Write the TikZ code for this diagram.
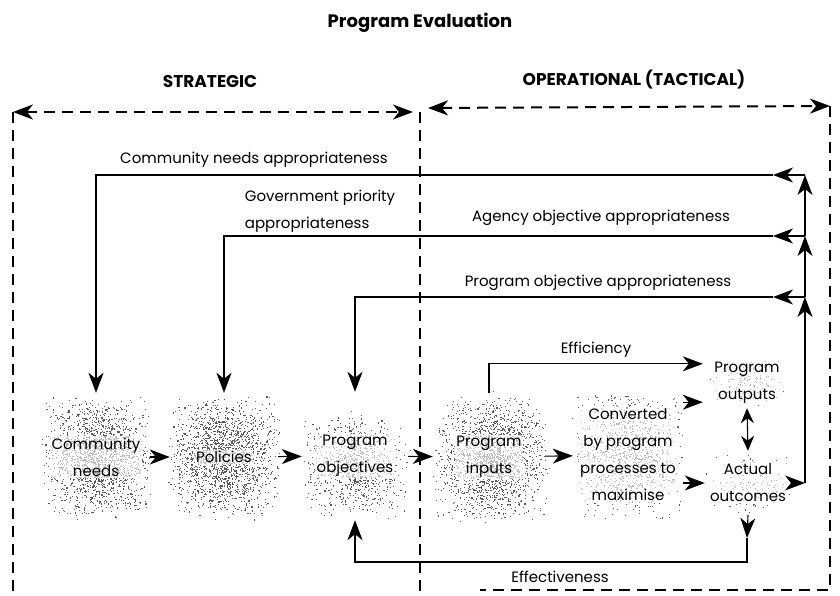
\documentclass[tikz,border=0pt]{standalone}
\usepackage{fontspec}
\setmainfont{Poppins}
\usepackage{tikz}
\usetikzlibrary{arrows.meta,calc}
\pgfdeclarelayer{bg}
\pgfsetlayers{bg,main}

\colorlet{dotgray}{black!65}

\tikzset{
  >={Stealth[length=20pt,width=15pt,inset=6pt]},
  arr/.style = {->, line width=1.1pt},
  darr/.style = {{Stealth[length=15pt,width=13pt,inset=5pt]}-{Stealth[length=15pt,width=13pt,inset=5pt]}, line width=1.1pt},
  frame/.style = {line width=2pt, dash pattern=on 11pt off 7pt},
  box/.style = {inner sep=0pt},
  boxtext/.style = {align=center, inner sep=1.5pt, rounded corners=3pt, fill=white, fill opacity=0.6, text opacity=1, font=\fontsize{15}{27}\selectfont},
  lbl/.style = {inner sep=0pt, font=\fontsize{15}{27}\selectfont},
  head/.style = {inner sep=0pt, font=\bfseries\fontsize{17}{20}\selectfont}
}

% speckled background: centre, half width, half height, number of dots
\newcommand{\stipple}[4]{%
  \foreach \k in {1,...,#4}
    \fill[dotgray] ([shift={({#2*(0.55*rand+0.5*rand)},{#3*(0.55*rand+0.5*rand)})}]#1) rectangle ++(1.1,1.1);
}

\begin{document}
\begin{tikzpicture}[x=1pt, y=-1pt]
  \pgfmathsetseed{7}
  \useasboundingbox (0,0) rectangle (840,596);

  % headings
  \node[head, font=\bfseries\fontsize{18}{20}\selectfont] (title) at (420,23) {Program Evaluation};
  \node[head] (strat) at (210,82) {STRATEGIC};
  \node[head] (oper) at (634,80) {OPERATIONAL (TACTICAL)};

  % frame
  \coordinate (tl) at (13,112);
  \coordinate (tm1) at (413,112);
  \coordinate (tdiv) at (420,112);
  \coordinate (tm2) at (428,108);
  \coordinate (tr) at (830,106);
  \draw[frame, <->] (tl) -- (tm1);
  \draw[frame, <->] (tm2) -- (tr);
  \draw[frame] (tl) -- (13,596);
  \draw[frame] (tdiv) -- (420,596);
  \draw[frame] (tr) -- (830,590) -- (480,590);

  % boxes
  \node[box, minimum width=108pt, minimum height=128pt] (comm) at (96,457) {};
  \node[box, minimum width=108pt, minimum height=128pt] (pol) at (224,457) {};
  \node[box, minimum width=106pt, minimum height=128pt] (pobj) at (355,456) {};
  \node[box, minimum width=112pt, minimum height=128pt] (pin) at (489,457) {};
  \node[box, minimum width=110pt, minimum height=124pt] (conv) at (628,455) {};
  \node[box, minimum width=88pt, minimum height=38pt] (pout) at (747,383) {};
  \node[box, minimum width=86pt, minimum height=64pt] (aout) at (748,483) {};

  \begin{pgfonlayer}{bg}
    \stipple{96,457}{54}{60}{1800}
    \stipple{224,457}{54}{60}{1800}
    \stipple{355,465}{53}{52}{900}
    \stipple{491,457}{56}{63}{1800}
    \stipple{628,455}{55}{62}{1000}
    \stipple{747,383}{42}{25}{130}
    \stipple{748,483}{42}{30}{130}
  \end{pgfonlayer}

  \node[boxtext] (commtxt) at (comm) {Community\\needs};
  \node[boxtext] (poltxt) at (pol) {Policies};
  \node[boxtext] (pobjtxt) at (pobj) {Program\\objectives};
  \node[boxtext] (pintxt) at (pin) {Program\\inputs};
  \node[boxtext] (convtxt) at (conv) {Converted\\by program\\processes to\\maximise};
  \node[boxtext] (pouttxt) at (pout) {Program\\outputs};
  \node[boxtext] (aouttxt) at (aout) {Actual\\outcomes};

  % main flow
  \draw[arr] (comm) -- (pol);
  \draw[arr] (pol) -- (pobj);
  \draw[arr] (pobj) -- (pin);
  \draw[arr] (pin) -- (conv);
  \draw[arr] (conv.east |- pout.south west) -- (pout.south west);
  \draw[arr] (conv.east |- aout.west) -- (aout.west);
  \draw[darr] ([yshift=-6pt]pout.south) -- (aout.north);

  % efficiency
  \draw[arr] (pin.north) |- (pout.north west);
  \node[lbl] (effic) at (596,350) {Efficiency};

  % appropriateness loops
  \coordinate (jc) at (805,175);
  \coordinate (jg) at (805,236);
  \coordinate (jp) at (805,297);
  \coordinate (jo) at (805,483);
  \coordinate (mc) at (773,175);
  \coordinate (mg) at (773,236);
  \coordinate (mp) at (773,297);
  \draw[arr] (aout.east) -- (jo);
  \draw[arr] (jo) -- (jp);
  \draw[arr] (jp) -- (jg);
  \draw[arr] (jg) -- (jc);
  \draw[arr] (jc) -- (mc);
  \draw[arr] (mc) -| (comm.north);
  \draw[arr] (jg) -- (mg);
  \draw[arr] (mg) -| (pol.north);
  \draw[arr] (jp) -- (mp);
  \draw[arr] (mp) -| (pobj.north);

  \node[lbl] (cna) at (254,160) {Community needs appropriateness};
  \node[lbl, align=left] (gpa) at (320,211) {Government priority\\appropriateness};
  \node[lbl] (aoa) at (601,218) {Agency objective appropriateness};
  \node[lbl] (poa) at (598,283) {Program objective appropriateness};

  % effectiveness
  \coordinate (effa) at (747,538);
  \coordinate (effb) at (747,562);
  \draw[arr] (aout.south) -- (effa);
  \draw[arr] (effa) -- (effb) -| (pobj.south);
  \node[lbl, anchor=base] (effect) at (560,582) {Effectiveness};
\end{tikzpicture}
\end{document}
